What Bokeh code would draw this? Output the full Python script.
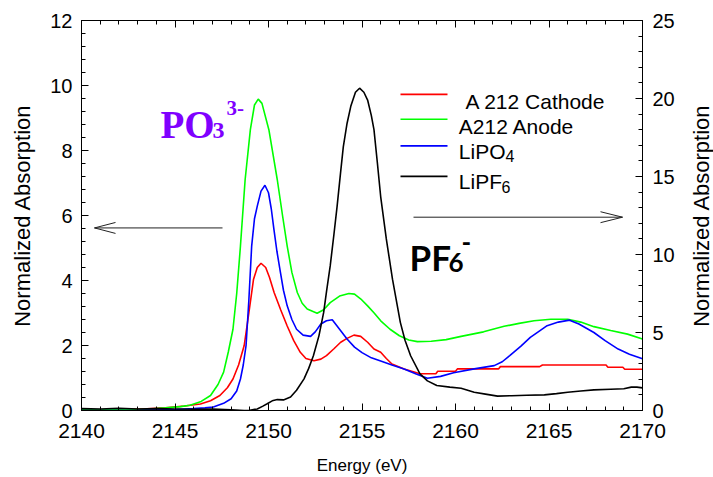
import math
from bokeh.plotting import figure
from bokeh.models import Range1d, LinearAxis, SingleIntervalTicker, Label
from bokeh.embed import file_html
from bokeh.resources import INLINE

# ---------------- data ----------------
green_e = [2140, 2142, 2143.5, 2144.5, 2145.3, 2145.8, 2146.4, 2146.9, 2147.3, 2147.6, 2147.85,
           2148.1, 2148.3, 2148.5, 2148.75, 2149.03, 2149.25, 2149.45, 2149.65, 2150.02, 2150.47,
           2150.75, 2151.0, 2151.25, 2151.54, 2151.8, 2152.07, 2152.6, 2152.95, 2153.3, 2153.8,
           2154.3, 2154.6, 2154.94, 2155.3, 2155.65, 2156.0, 2156.5, 2157.0, 2157.5, 2157.96,
           2158.7, 2159.5, 2160.3, 2161.5, 2162.6, 2163.4, 2164.2, 2165.1, 2166.0, 2166.7,
           2167.4, 2168.3, 2169.2, 2170]
green_v = [0.02, 0.02, 0.04, 0.08, 0.12, 0.16, 0.28, 0.46, 0.8, 1.18, 1.8,
           2.5, 3.6, 5.06, 7.1, 8.64, 9.4, 9.58, 9.45, 8.64, 7.1,
           6.0, 5.06, 4.25, 3.63, 3.3, 3.12, 2.99, 3.1, 3.32, 3.52,
           3.6, 3.58, 3.43, 3.22, 3.0, 2.76, 2.5, 2.3, 2.17, 2.12,
           2.13, 2.18, 2.28, 2.42, 2.59, 2.68, 2.76, 2.81, 2.81, 2.72,
           2.58, 2.46, 2.35, 2.2]

blue_e = [2140, 2143, 2145, 2146, 2146.6, 2147.05, 2147.6, 2148.0, 2148.3, 2148.5, 2148.65,
          2148.8, 2148.95, 2149.1, 2149.25, 2149.4, 2149.6, 2149.81, 2150.0, 2150.15, 2150.29,
          2150.45, 2150.64, 2150.8, 2151.0, 2151.25, 2151.5, 2151.85, 2152.25, 2152.5, 2152.8,
          2153.1, 2153.41, 2153.8, 2154.2, 2154.6, 2155.0, 2155.5, 2156.0, 2156.6, 2157.25,
          2157.9, 2158.5, 2159.2, 2159.9, 2161.0, 2162.07, 2162.5, 2162.9, 2163.5, 2164.0,
          2164.5, 2164.9, 2165.5, 2166.1, 2166.6, 2167.0, 2167.4, 2168.0, 2168.7, 2169.3, 2170]
blue_v = [0.0, 0.01, 0.03, 0.06, 0.08, 0.11, 0.22, 0.36, 0.6, 0.97, 1.4,
          2.0, 3.4, 5.06, 5.9, 6.29, 6.75, 6.93, 6.7, 6.2, 5.57,
          4.9, 4.24, 3.7, 3.22, 2.8, 2.5, 2.32, 2.28, 2.42, 2.66,
          2.76, 2.79, 2.5, 2.2, 1.95, 1.78, 1.62, 1.52, 1.4, 1.28,
          1.12, 0.99, 1.05, 1.16, 1.28, 1.38, 1.5, 1.69, 1.98, 2.25,
          2.45, 2.61, 2.72, 2.78, 2.66, 2.53, 2.4, 2.15, 1.89, 1.73, 1.59]

red_e = [2140, 2142, 2143.5, 2144.5, 2145.5, 2146.36, 2146.9, 2147.4, 2147.8, 2148.1, 2148.4,
         2148.7, 2148.95, 2149.2, 2149.4, 2149.6, 2149.85, 2150.05, 2150.3, 2150.65, 2151.0,
         2151.35, 2151.7, 2152.0, 2152.43, 2152.8, 2153.1, 2153.5, 2153.86, 2154.2, 2154.57,
         2154.93, 2155.3, 2155.64, 2156.0, 2156.3, 2156.6, 2157.25, 2157.7, 2158.1, 2158.95,
         2159.05, 2160.0, 2160.1, 2162.3, 2162.4, 2164.5, 2164.65, 2168.05, 2168.15, 2168.95,
         2169.05, 2170]
red_v = [0.02, 0.03, 0.05, 0.08, 0.14, 0.2, 0.3, 0.46, 0.7, 0.97, 1.4,
         2.0, 3.0, 4.04, 4.4, 4.53, 4.4, 4.1, 3.63, 3.1, 2.6,
         2.15, 1.79, 1.6, 1.53, 1.58, 1.69, 1.9, 2.1, 2.22, 2.32,
         2.28, 2.1, 1.89, 1.79, 1.6, 1.43, 1.28, 1.2, 1.13, 1.13,
         1.21, 1.21, 1.28, 1.28, 1.35, 1.35, 1.4, 1.4, 1.33, 1.33,
         1.27, 1.27]

black_e = [2140, 2141, 2142, 2143, 2144, 2145, 2146, 2147, 2148, 2148.7, 2149.0,
           2149.4, 2149.7, 2149.93, 2150.2, 2150.47, 2150.8, 2151.18, 2151.5, 2151.9, 2152.15,
           2152.4, 2152.7, 2152.95, 2153.1, 2153.3, 2153.5, 2153.67, 2153.85, 2154.0, 2154.2,
           2154.4, 2154.65, 2154.87, 2155.1, 2155.3, 2155.5, 2155.64, 2155.82, 2156.0, 2156.3,
           2156.63, 2157.05, 2157.3, 2157.6, 2158.1, 2158.5, 2159.0, 2159.7, 2160.3, 2161.0,
           2161.6, 2162.25, 2163.0, 2163.8, 2164.75, 2165.4, 2166.0, 2166.7, 2167.4, 2168.3,
           2169.0, 2169.4, 2169.7, 2170]
black_v = [0.12, 0.1, 0.14, 0.1, 0.12, 0.1, 0.08, 0.1, 0.05, 0.0, 0.02,
           0.1, 0.28, 0.43, 0.62, 0.7, 0.68, 0.86, 1.3, 2.03, 2.7,
           3.51, 4.8, 6.29, 7.6, 9.27, 11.3, 13.1, 15.2, 16.9, 18.4,
           19.5, 20.4, 20.66, 20.4, 19.9, 18.9, 18.0, 15.9, 13.7, 11.0,
           8.42, 5.65, 4.5, 3.51, 2.35, 1.9, 1.6, 1.5, 1.43, 1.17,
           1.05, 0.92, 0.95, 0.98, 1.0, 1.08, 1.17, 1.25, 1.32, 1.36,
           1.39, 1.5, 1.5, 1.45]

series_names = ["A 212 Cathode", "A212 Anode", "LiPO", "LiPF"]
series_subs = ["", "", "4", "6"]
series_colors = ["#ff0000", "#00ff00", "#0000ff", "#000000"]

x_ticks_interval = 5
left_ticks_interval = 2
right_ticks_interval = 5
y_label = "Normalized Absorption"
x_label = "Energy (eV)"

# ---------------- layout helpers ----------------
W, H = 713, 477
FL, FR, FT, FB = 81, 642, 20, 412  # frame edges in pixels
X0, X1, Y0, Y1 = 2140, 2170, 0, 12


def px_x(px):
    return X0 + (px - FL) * (X1 - X0) / (FR - FL)


def px_y(py):
    return Y0 + (FB - py) * (Y1 - Y0) / (FB - FT)


p = figure(width=W, height=H, x_range=Range1d(X0, X1), y_range=Range1d(Y0, Y1),
           output_backend="svg", toolbar_location=None,
           min_border_left=FL, min_border_right=W - FR, min_border_top=FT,
           min_border_bottom=H - FB)
p.extra_y_ranges = {"right": Range1d(0, 25)}
p.xgrid.visible = False
p.ygrid.visible = False
p.outline_line_color = "black"
p.outline_line_width = 1
p.background_fill_color = "white"
p.border_fill_color = "white"

SANS = "Liberation Sans"
BOLDC = "Lato"


def style_axis(ax, label_size="19px", font=SANS):
    ax.major_tick_in = 7
    ax.major_tick_out = 0
    ax.minor_tick_in = 4
    ax.minor_tick_out = 0
    ax.axis_line_color = "black"
    ax.major_tick_line_color = "black"
    ax.minor_tick_line_color = "black"
    ax.major_label_text_font = font
    ax.major_label_text_font_size = label_size
    ax.major_label_text_color = "black"
    ax.axis_label_text_font_style = "normal"
    ax.axis_label_text_color = "black"


xa = p.xaxis[0]
xa.ticker = SingleIntervalTicker(interval=x_ticks_interval, num_minor_ticks=5)
style_axis(xa, "21px")
xa.major_label_standoff = 13
xa.axis_label = x_label
xa.axis_label_text_font = SANS
xa.axis_label_text_font_size = "17px"
xa.axis_label_standoff = 15

ya = p.yaxis[0]
ya.ticker = SingleIntervalTicker(interval=left_ticks_interval, num_minor_ticks=5)
style_axis(ya, "20px")
ya.major_label_standoff = 9
ya.axis_label = y_label
ya.axis_label_text_font = SANS
ya.axis_label_text_font_size = "22px"
ya.axis_label_standoff = 12

ra = LinearAxis(y_range_name="right",
                ticker=SingleIntervalTicker(interval=right_ticks_interval, num_minor_ticks=5))
style_axis(ra, "20px")
ra.major_label_standoff = 10
p.add_layout(ra, "right")

ta = LinearAxis(ticker=SingleIntervalTicker(interval=x_ticks_interval, num_minor_ticks=5))
style_axis(ta)
ta.major_label_text_font_size = "0px"
ta.major_label_text_color = None
p.add_layout(ta, "above")

# right axis title (reads bottom to top, like the left one); placed in the right
# side panel so that it is not clipped to the plotting frame
p.add_layout(Label(x=px_x(701), y=px_y((FT + FB) / 2), text=y_label, angle=math.pi / 2,
                   text_font=SANS, text_font_size="22px", text_align="center",
                   text_baseline="middle", text_color="black"), "right")

# ---------------- curves ----------------
LW = 1.6
p.line(red_e, red_v, line_color=series_colors[0], line_width=LW)
p.line(green_e, green_v, line_color=series_colors[1], line_width=LW)
p.line(blue_e, blue_v, line_color=series_colors[2], line_width=LW)
p.line(black_e, black_v, line_color=series_colors[3], line_width=LW, y_range_name="right")

# ---------------- legend (drawn by hand for subscripts) ----------------
leg_line_x = (400, 447)
leg_line_y = [94.3, 119.3, 146, 176.7]
leg_text_x = [465, 458.3, 458.3, 458.3]
leg_text_base = [101.7, 126.7, 151.5, 181.5]
leg_sub_x = [None, None, 505, 501]
leg_sub_base = [None, None, 156, 187]
for i in range(4):
    p.line([px_x(leg_line_x[0]), px_x(leg_line_x[1])], [px_y(leg_line_y[i])] * 2,
           line_color=series_colors[i], line_width=LW)
    p.add_layout(Label(x=px_x(leg_text_x[i]), y=px_y(leg_text_base[i]), text=series_names[i],
                       text_font=SANS, text_font_size="21px", text_baseline="alphabetic",
                       text_color="black"))
    if series_subs[i]:
        p.add_layout(Label(x=px_x(leg_sub_x[i]), y=px_y(leg_sub_base[i]), text=series_subs[i],
                           text_font=SANS, text_font_size="16px", text_baseline="alphabetic",
                           text_color="black"))

# ---------------- annotations ----------------
PURPLE = "#7f00ff"
SERIF = "Liberation Serif"
p.add_layout(Label(x=px_x(160), y=px_y(125), text="PO", text_font=SERIF, text_font_size="39px",
                   text_font_style="bold", text_color=PURPLE, text_baseline="alphabetic"))
p.add_layout(Label(x=px_x(212), y=px_y(131), text="3", text_font=SERIF, text_font_size="24px",
                   text_font_style="bold", text_color=PURPLE, text_baseline="alphabetic"))
p.add_layout(Label(x=px_x(226), y=px_y(107.5), text="3-", text_font=SERIF, text_font_size="21px",
                   text_font_style="bold", text_color=PURPLE, text_baseline="alphabetic"))

p.add_layout(Label(x=px_x(409), y=px_y(258), text="PF", text_font=BOLDC, text_font_size="35px",
                   text_font_style="bold", text_color="black", text_baseline="alphabetic"))
p.add_layout(Label(x=px_x(448), y=px_y(263), text="6", text_font=BOLDC, text_font_size="26px",
                   text_font_style="bold", text_color="black", text_baseline="alphabetic"))
p.add_layout(Label(x=px_x(461), y=px_y(243), text="-", text_font=BOLDC, text_font_size="26px",
                   text_font_style="bold", text_color="black", text_baseline="alphabetic"))

# arrows (line + open head)
ARROW_C = "#222222"
la_y = 228.5
p.line([px_x(222), px_x(94)], [px_y(la_y)] * 2, line_color=ARROW_C, line_width=1)
p.line([px_x(115), px_x(94), px_x(115)], [px_y(la_y - 5.5), px_y(la_y), px_y(la_y + 5.5)],
       line_color=ARROW_C, line_width=1)
ra_y = 217.7
p.line([px_x(413), px_x(622)], [px_y(ra_y)] * 2, line_color=ARROW_C, line_width=1)
p.line([px_x(600), px_x(622), px_x(600)], [px_y(ra_y - 5.5), px_y(ra_y), px_y(ra_y + 5.5)],
       line_color=ARROW_C, line_width=1)

open("out.html", "w").write(file_html(p, INLINE))
